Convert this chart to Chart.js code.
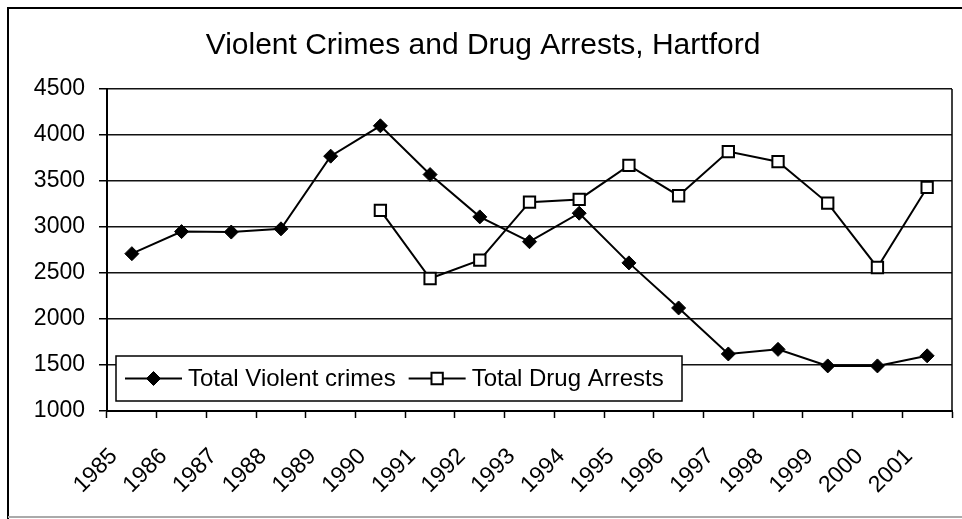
<!DOCTYPE html>
<html lang="en">
<head>
<meta charset="UTF-8">
<title>Violent Crimes and Drug Arrests, Hartford</title>
<script src="https://cdn.jsdelivr.net/npm/chart.js"></script>
<style>
  html, body { margin: 0; padding: 0; background: #fff; }
  #wrap { width: 962px; height: 519px; position: relative; }
</style>
</head>
<body>
<div id="wrap"><canvas id="crimeChart"></canvas></div>
<script>
const years = ['1985', '1986', '1987', '1988', '1989', '1990', '1991', '1992', '1993',
               '1994', '1995', '1996', '1997', '1998', '1999', '2000', '2001'];
const violentCrimes = [2710, 2950, 2945, 2980, 3770, 4100, 3570, 3110, 2840,
                       3150, 2610, 2120, 1620, 1670, 1490, 1490, 1600];
const drugArrests = [null, null, null, null, null, 3180, 2440, 2640, 3270,
                     3300, 3670, 3340, 3820, 3710, 3260, 2560, 3430];
const yMin = 1000, yMax = 4500, yStep = 500;

const FONT = "'Liberation Sans', Arial, sans-serif";

// white page with the scanned frame round it, plus the right edge of the plot area
const framePlugin = {
  id: 'frame',
  beforeDraw(chart) {
    const ctx = chart.ctx;
    ctx.save();
    ctx.fillStyle = '#fff';
    ctx.fillRect(0, 0, chart.width, chart.height);
    ctx.strokeStyle = '#000';
    ctx.lineWidth = 2;
    ctx.beginPath();
    ctx.moveTo(8, chart.height);
    ctx.lineTo(8, 8);
    ctx.lineTo(chart.width, 8);
    ctx.stroke();
    ctx.strokeStyle = '#aaa';
    ctx.lineWidth = 2;
    ctx.beginPath();
    ctx.moveTo(8, 517);
    ctx.lineTo(chart.width, 517);
    ctx.stroke();
    ctx.restore();
  },
  afterDraw(chart) {
    const {ctx, chartArea} = chart;
    ctx.save();
    ctx.strokeStyle = '#000';
    ctx.lineWidth = 1.5;
    ctx.beginPath();
    ctx.moveTo(chartArea.right, chartArea.top);
    ctx.lineTo(chartArea.right, chartArea.bottom);
    ctx.stroke();
    ctx.restore();
  }
};

// boxed legend sitting inside the plot, bottom left
const boxLegend = {
  id: 'boxLegend',
  afterDraw(chart) {
    const ctx = chart.ctx;
    const left = 116, top = 356, w = 566, h = 45;
    const cy = top + h / 2;
    ctx.save();
    ctx.fillStyle = '#fff';
    ctx.fillRect(left, top, w, h);
    ctx.strokeStyle = '#000';
    ctx.lineWidth = 1.5;
    ctx.strokeRect(left, top, w, h);
    ctx.font = '24px ' + FONT;
    ctx.textBaseline = 'middle';
    let x = left + 9;
    chart.data.datasets.forEach(ds => {
      ctx.strokeStyle = ds.borderColor;
      ctx.lineWidth = ds.borderWidth;
      ctx.beginPath();
      ctx.moveTo(x, cy);
      ctx.lineTo(x + 57, cy);
      ctx.stroke();
      ctx.fillStyle = ds.pointBackgroundColor;
      ctx.strokeStyle = ds.pointBorderColor;
      ctx.lineWidth = ds.pointBorderWidth;
      Chart.helpers.drawPoint(ctx, {
        pointStyle: ds.pointStyle, radius: ds.pointRadius,
        rotation: 0, borderWidth: ds.pointBorderWidth
      }, x + 28.5, cy);
      ctx.fillStyle = '#000';
      ctx.fillText(ds.label, x + 63, cy + 1);
      x += 63 + ctx.measureText(ds.label).width + 13;
    });
    ctx.restore();
  }
};

const ctx = document.getElementById('crimeChart').getContext('2d');
new Chart(ctx, {
  type: 'line',
  data: {
    labels: years,
    datasets: [{
      label: 'Total Violent crimes',
      data: violentCrimes,
      borderColor: '#000',
      borderWidth: 2,
      pointStyle: 'rectRot',
      pointRadius: 7,
      pointBackgroundColor: '#000',
      pointBorderColor: '#000',
      pointBorderWidth: 1,
      tension: 0
    }, {
      label: 'Total Drug Arrests',
      data: drugArrests,
      borderColor: '#000',
      borderWidth: 2,
      pointStyle: 'rect',
      pointRadius: 8,
      pointBackgroundColor: '#fff',
      pointBorderColor: '#000',
      pointBorderWidth: 2,
      tension: 0
    }]
  },
  options: {
    responsive: true,
    maintainAspectRatio: false,
    animation: false,
    events: [],
    layout: { padding: { top: 20, left: 11, right: 7, bottom: 0 } },
    plugins: {
      legend: { display: false },
      tooltip: { enabled: false },
      title: {
        display: true,
        text: 'Violent Crimes and Drug Arrests, Hartford',
        color: '#000',
        font: { family: FONT, size: 30, weight: 'normal', lineHeight: 1.2 },
        padding: { top: 8, bottom: 25 }
      }
    },
    scales: {
      x: {
        offset: true,
        afterFit(scale) {
          scale.height = 108;
          scale.paddingLeft = 0;
          scale.paddingRight = 0;
        },
        grid: {
          offset: true,
          drawOnChartArea: false,
          drawTicks: true,
          tickLength: 7,
          tickColor: '#000',
          tickWidth: 1.5
        },
        border: { color: '#000', width: 2 },
        ticks: {
          color: '#000',
          font: { family: FONT, size: 23 },
          minRotation: 45,
          maxRotation: 45,
          autoSkip: false,
          padding: 25,
          labelOffset: -18
        }
      },
      y: {
        min: yMin,
        max: yMax,
        afterFit(scale) { scale.width = 96; },
        grid: {
          color: '#111',
          lineWidth: 1.5,
          drawTicks: true,
          tickLength: 8,
          tickColor: '#000'
        },
        border: { color: '#000', width: 2 },
        ticks: {
          stepSize: yStep,
          color: '#000',
          font: { family: FONT, size: 23 },
          padding: 14,
          callback: v => String(v)
        }
      }
    }
  },
  plugins: [framePlugin, boxLegend]
});
</script>
</body>
</html>
